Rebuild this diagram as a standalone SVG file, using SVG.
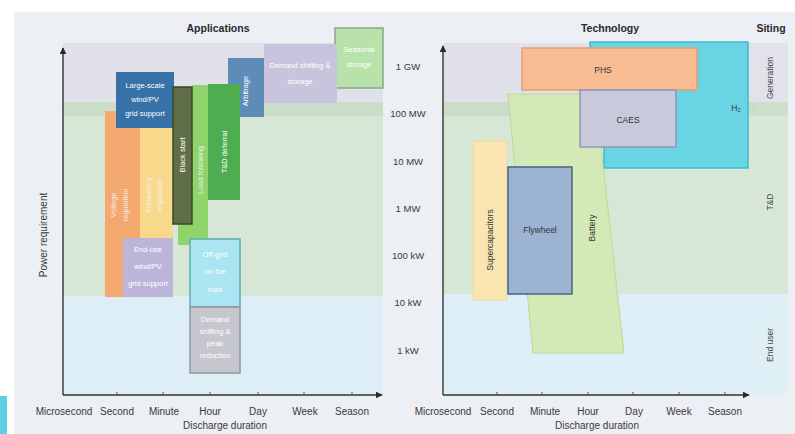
<svg xmlns="http://www.w3.org/2000/svg" width="795" height="434" viewBox="0 0 795 434">
<defs>
<marker id="arr" viewBox="0 0 10 10" refX="9" refY="5" markerWidth="7" markerHeight="7" orient="auto" markerUnits="userSpaceOnUse"><path d="M0,0 L10,5 L0,10 Z" fill="#2a2a2a"/></marker>
<style>
text{font-family:"Liberation Sans",Arial,sans-serif;}
.ax{stroke:#333;stroke-width:1.4;fill:none;}
.tk{stroke:#555;stroke-width:1;}
.lbl{font-size:10px;fill:#3a3a3a;text-anchor:middle;}
.yl{font-size:9.5px;fill:#3a3a3a;text-anchor:middle;}
.ttl{font-size:10.5px;fill:#2a2a2a;text-anchor:middle;font-weight:bold;}
.w{font-size:7.5px;fill:#ffffff;text-anchor:middle;}
.wf{font-size:7.5px;fill:#f4f4f4;text-anchor:middle;opacity:0.9;}
.d{font-size:8.5px;fill:#333;text-anchor:middle;}
.site{font-size:8.5px;fill:#444;text-anchor:middle;}
</style>
</defs>
<rect x="0" y="0" width="795" height="434" fill="#ffffff"/>
<rect x="14" y="12" width="781" height="422" fill="#eceff3"/>
<rect x="0" y="396" width="7" height="38" fill="#5fcfe6"/>

<g id="bands-left">
<rect x="63" y="43" width="320" height="59" fill="#e1e1ea"/>
<rect x="63" y="102" width="320" height="14" fill="#c9ddc9"/>
<rect x="63" y="116" width="320" height="180" fill="#d6e7d6"/>
<rect x="63" y="296" width="320" height="99" fill="#ddeef6"/>
</g>
<g id="bands-right">
<rect x="443" y="43" width="345" height="59" fill="#e1e1ea"/>
<rect x="443" y="102" width="345" height="14" fill="#c9ddc9"/>
<rect x="443" y="116" width="345" height="178" fill="#d6e7d6"/>
<rect x="443" y="294" width="345" height="101" fill="#ddeef6"/>
<rect x="755" y="43" width="33" height="352" fill="#ffffff" opacity="0.06"/>
</g>

<text class="ttl" x="218" y="32">Applications</text>
<text class="ttl" x="610" y="32">Technology</text>
<text class="ttl" x="771" y="32">Siting</text>

<g id="seasonal-storage"><rect x="335" y="28" width="48" height="60" fill="#b9e2aa" stroke="#86a888" stroke-width="1.5"/><text class="w" x="359" y="52">Seasonal</text><text class="w" x="359" y="67">storage</text></g>
<g id="demand-shifting"><rect x="264" y="44" width="73" height="59" fill="#c8c4de"/><text class="w" x="300" y="68">Demand shifting &amp;</text><text class="w" x="300" y="84">storage</text></g>
<g id="arbitrage"><rect x="228" y="58" width="36" height="59" fill="#5d8cb8"/><text class="w" transform="translate(248,91) rotate(-90)">Arbitrage</text></g>
<g id="voltage-regulation"><rect x="105" y="111" width="36" height="186" fill="#f3a96f"/><text class="wf" transform="translate(116,205) rotate(-90)">Voltage</text><text class="wf" transform="translate(128,205) rotate(-90)">regulation</text></g>
<g id="frequency-regulation"><rect x="140" y="113" width="33" height="184" fill="#f8d98c"/><text class="wf" transform="translate(151,195) rotate(-90)">Frequency</text><text class="wf" transform="translate(162,195) rotate(-90)">regulation</text></g>
<g id="large-scale-support"><rect x="116" y="72" width="58" height="56" fill="#3671a8"/><text class="w" x="145" y="88">Large-scale</text><text class="w" x="145" y="102">wind/PV</text><text class="w" x="145" y="116">grid support</text></g>
<g id="load-following"><path d="M192,85 H208 V245 H178 V224 H192 Z" fill="#8fd46a"/><text class="wf" transform="translate(203,170) rotate(-90)">Load following</text></g>
<g id="black-start"><rect x="173" y="87" width="19" height="137" fill="#5f6e47" stroke="#3a4729" stroke-width="1.5"/><text class="w" transform="translate(185,155) rotate(-90)">Black start</text></g>
<g id="td-deferral"><rect x="208" y="84" width="32" height="116" fill="#4dad50"/><text class="w" transform="translate(227,152) rotate(-90)">T&amp;D deferral</text></g>
<g id="end-use-support"><rect x="123" y="238" width="50" height="59" fill="#bdb5d9"/><text class="w" x="148" y="252">End-use</text><text class="w" x="148" y="269">wind/PV</text><text class="w" x="148" y="286">grid support</text></g>
<g id="off-grid"><rect x="190" y="239" width="50" height="68" fill="#aae5f1" stroke="#5eaab9" stroke-width="1.5"/><text class="w" x="215" y="257">Off-grid</text><text class="w" x="215" y="274">on the</text><text class="w" x="215" y="292">road</text></g>
<g id="demand-shift-end"><rect x="190" y="307" width="50" height="66" fill="#c6c6ce" stroke="#8d99a2" stroke-width="1.5"/><text class="w" x="215" y="322">Demand</text><text class="w" x="215" y="334">shifting &amp;</text><text class="w" x="215" y="346">peak</text><text class="w" x="215" y="358">reduction</text></g>

<g id="h2"><path d="M590,42 H748 V168 H604 V92 H590 Z" fill="#68d4e4" stroke="#3cbacd" stroke-width="1.5"/><text class="d" x="736" y="111">H₂</text></g>
<g id="battery"><path d="M508,94 L595,94 L624,353 L533,353 Z" fill="#d3e9b6" stroke="#bcd99a" stroke-width="1"/><text class="d" transform="translate(595,228) rotate(-90)">Battery</text></g>
<g id="phs"><rect x="522" y="48" width="175" height="42" fill="#f7bc92" stroke="#e59f72" stroke-width="1.5"/><text class="d" x="603" y="73">PHS</text></g>
<g id="caes"><rect x="580" y="90" width="96" height="57" fill="#c9c9dc" stroke="#9495b4" stroke-width="1.5"/><text class="d" x="628" y="123">CAES</text></g>
<g id="supercapacitors"><rect x="473" y="141" width="34" height="159" fill="#fae5b2" stroke="#f1d79e" stroke-width="1"/><text class="d" transform="translate(493,240) rotate(-90)">Supercapacitors</text></g>
<g id="flywheel"><rect x="508" y="167" width="64" height="127" fill="#9cb3d2" stroke="#456583" stroke-width="1.5"/><text class="d" x="540" y="233">Flywheel</text></g>

<g id="siting-labels">
<text class="site" transform="translate(773,78) rotate(-90)">Generation</text>
<text class="site" transform="translate(773,202) rotate(-90)">T&amp;D</text>
<text class="site" transform="translate(773,345) rotate(-90)">End user</text>
</g>

<g id="connectors">
<line class="ax" x1="63" y1="395" x2="63" y2="48" marker-end="url(#arr)"/>
<line class="ax" x1="63" y1="395" x2="382" y2="395" marker-end="url(#arr)"/>
<line class="ax" x1="443" y1="395" x2="443" y2="46" marker-end="url(#arr)"/>
<line class="ax" x1="443" y1="395" x2="749" y2="395" marker-end="url(#arr)"/>
<g class="tk">
<line x1="117" y1="392" x2="117" y2="395"/><line x1="163" y1="392" x2="163" y2="395"/><line x1="210" y1="392" x2="210" y2="395"/><line x1="258" y1="392" x2="258" y2="395"/><line x1="304" y1="392" x2="304" y2="395"/><line x1="352" y1="392" x2="352" y2="395"/>
<line x1="497" y1="392" x2="497" y2="395"/><line x1="542" y1="392" x2="542" y2="395"/><line x1="588" y1="392" x2="588" y2="395"/><line x1="633" y1="392" x2="633" y2="395"/><line x1="679" y1="392" x2="679" y2="395"/><line x1="725" y1="392" x2="725" y2="395"/>
</g>
</g>

<g id="axis-labels">
<text class="lbl" x="64" y="415">Microsecond</text><text class="lbl" x="117" y="415">Second</text><text class="lbl" x="164" y="415">Minute</text><text class="lbl" x="210" y="415">Hour</text><text class="lbl" x="258" y="415">Day</text><text class="lbl" x="305" y="415">Week</text><text class="lbl" x="352" y="415">Season</text>
<text class="lbl" x="225" y="429">Discharge duration</text>
<text class="lbl" transform="translate(47,235) rotate(-90)">Power requirement</text>
<text class="lbl" x="443" y="415">Microsecond</text><text class="lbl" x="497" y="415">Second</text><text class="lbl" x="545" y="415">Minute</text><text class="lbl" x="588" y="415">Hour</text><text class="lbl" x="634" y="415">Day</text><text class="lbl" x="679" y="415">Week</text><text class="lbl" x="725" y="415">Season</text>
<text class="lbl" x="597" y="429">Discharge duration</text>
<text class="yl" x="408" y="70">1 GW</text><text class="yl" x="408" y="117">100 MW</text><text class="yl" x="408" y="165">10 MW</text><text class="yl" x="408" y="212">1 MW</text><text class="yl" x="408" y="259">100 kW</text><text class="yl" x="408" y="306">10 kW</text><text class="yl" x="408" y="354">1 kW</text>
</g>
</svg>
